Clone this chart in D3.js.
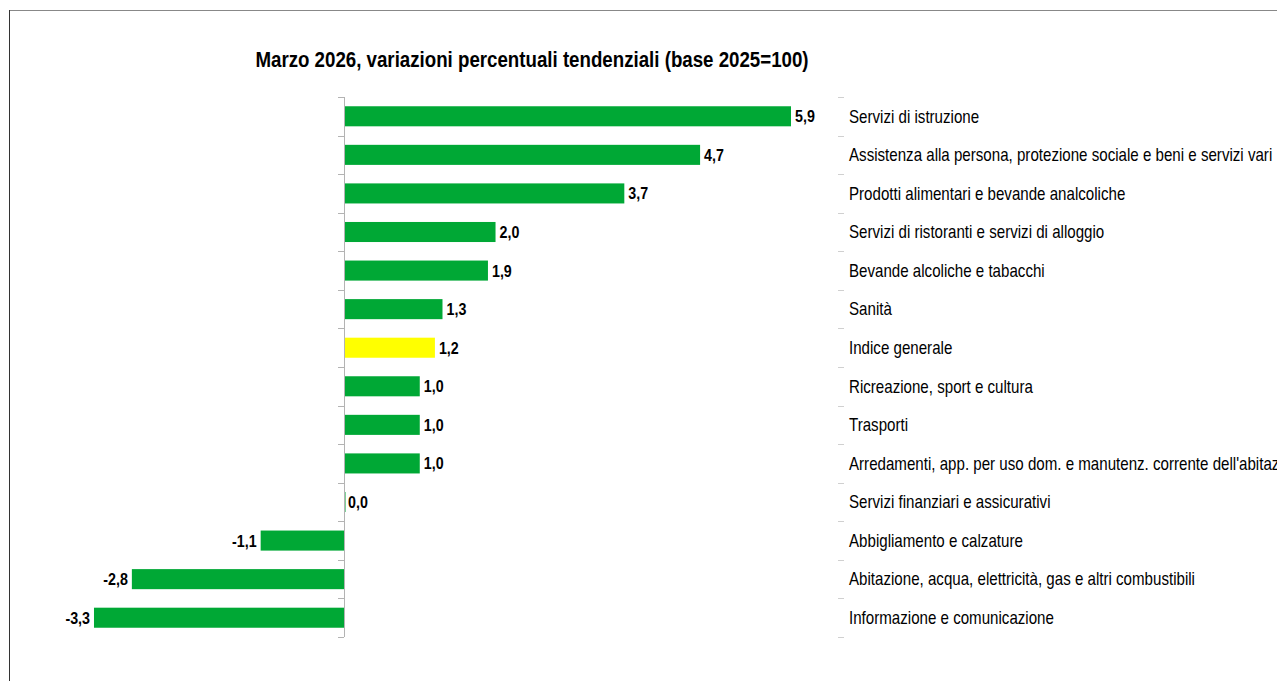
<!DOCTYPE html>
<html><head><meta charset="utf-8">
<script src="https://cdn.jsdelivr.net/npm/d3@7"></script>
<style>body{margin:0;background:#fff}svg{display:block}</style>
</head><body>
<svg id="c" width="1277" height="681"></svg>
<script>
const categories = [
  "Servizi di istruzione",
  "Assistenza alla persona, protezione sociale e beni e servizi vari",
  "Prodotti alimentari e bevande analcoliche",
  "Servizi di ristoranti e servizi di alloggio",
  "Bevande alcoliche e tabacchi",
  "Sanità",
  "Indice generale",
  "Ricreazione, sport e cultura",
  "Trasporti",
  "Arredamenti, app. per uso dom. e manutenz. corrente dell'abitazione",
  "Servizi finanziari e assicurativi",
  "Abbigliamento e calzature",
  "Abitazione, acqua, elettricità, gas e altri combustibili",
  "Informazione e comunicazione"
];
const values = [5.9, 4.7, 3.7, 2.0, 1.9, 1.3, 1.2, 1.0, 1.0, 1.0, 0.0, -1.1, -2.8, -3.3];
const highlight = ["Indice generale"];
const title = "Marzo 2026, variazioni percentuali tendenziali (base 2025=100)";

const svg = d3.select("#c");
const font = "'Liberation Sans', Arial, sans-serif";
const sx = 0.84; // narrow font emulation

// border
svg.append("line").attr("x1",9.5).attr("x2",1277).attr("y1",10.5).attr("y2",10.5).attr("stroke","#888").attr("stroke-width",1);
svg.append("line").attr("x1",9.5).attr("x2",9.5).attr("y1",10).attr("y2",681).attr("stroke","#333").attr("stroke-width",1);

const x = d3.scaleLinear().domain([0, 5.9]).range([344, 791]);
const y = d3.scaleBand().domain(categories).range([97, 637]).paddingInner(0.48).paddingOuter(0.24);

svg.append("text").attr("transform",`translate(532,67) scale(0.85,1)`).attr("text-anchor","middle")
  .attr("font-family",font).attr("font-weight","bold").attr("font-size",22).attr("fill","#000").text(title);

// bars
svg.selectAll("rect.bar").data(values).join("rect").attr("class","bar")
  .attr("x", d => Math.min(x(d), x(0)))
  .attr("width", d => Math.max(Math.abs(x(d) - x(0)), d === 0 ? 1.5 : 0))
  .attr("y", (d,i) => y(categories[i]))
  .attr("height", y.bandwidth())
  .attr("fill", (d,i) => highlight.includes(categories[i]) ? "#ffff00" : "#00a835");

// left axis at 0 with ticks at band boundaries
const bounds = d3.range(categories.length + 1).map(i => 97 + i * (540 / categories.length));
svg.append("line").attr("x1",x(0)+0.5).attr("x2",x(0)+0.5).attr("y1",97).attr("y2",637).attr("stroke","#b3b3b3").attr("stroke-width",1);
svg.selectAll("line.lt").data(bounds).join("line").attr("class","lt")
  .attr("x1",x(0)-6).attr("x2",x(0)).attr("y1",d=>Math.round(d)+0.5).attr("y2",d=>Math.round(d)+0.5)
  .attr("stroke","#b3b3b3").attr("stroke-width",1);

// right ticks
svg.selectAll("line.rt").data(bounds).join("line").attr("class","rt")
  .attr("x1",838).attr("x2",844).attr("y1",d=>Math.round(d)+0.5).attr("y2",d=>Math.round(d)+0.5)
  .attr("stroke","#d0d0d0").attr("stroke-width",1);

// right category labels
svg.selectAll("text.cat").data(categories).join("text").attr("class","cat")
  .attr("transform", d => `translate(849,${y(d) + y.bandwidth()/2}) scale(${sx},1)`).attr("dy","0.35em")
  .attr("font-family",font).attr("font-size",18).attr("fill","#000").text(d=>d);

// value labels
const fmt = v => v.toFixed(1).replace(".", ",");
svg.selectAll("text.val").data(values).join("text").attr("class","val")
  .attr("transform", (d,i) => `translate(${d < 0 ? x(d) - 4 : x(d) + 4},${y(categories[i]) + y.bandwidth()/2}) scale(${sx},1)`)
  .attr("text-anchor", d => d < 0 ? "end" : "start").attr("dy","0.35em")
  .attr("font-family",font).attr("font-weight","bold").attr("font-size",17).attr("fill","#000").text(fmt);
</script>
</body></html>
